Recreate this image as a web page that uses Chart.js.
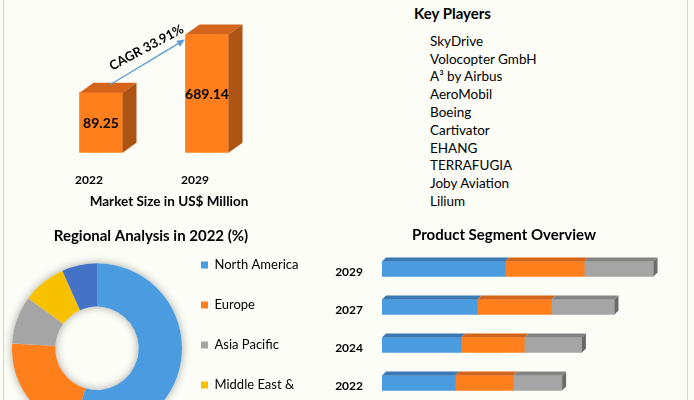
<!DOCTYPE html>
<html>
<head>
<meta charset="utf-8">
<script src="https://cdn.jsdelivr.net/npm/chart.js@4.4.1/dist/chart.umd.min.js"></script>
<style>
  body { margin: 0; background: #fdfdf8; font-family: Lato, sans-serif; }
  #page { position: relative; width: 694px; height: 400px; overflow: hidden; }
  canvas { position: absolute; }
  .edge { position: absolute; top: 0; width: 1px; height: 400px; background: #c9d6ec; }
  #players { position: absolute; left: 414px; top: 4px; color: #000; }
  #players h3 { margin: 0; font-size: 15px; line-height: 18px; font-weight: bold; }
  #players ul { list-style: none; margin: 10.8px 0 0 16px; padding: 0; font-size: 13.5px; line-height: 17.8px; }
</style>
</head>
<body>
<div id="page">
  <div class="edge" style="left:3px"></div>
  <div class="edge" style="left:687px"></div>
  <canvas id="sizeChart" width="338" height="220" style="left:0;top:0"></canvas>
  <div id="players"><h3>Key Players</h3><ul id="playerList"></ul></div>
  <canvas id="regionChart" width="302" height="221" style="left:0;top:224px"></canvas>
  <canvas id="segmentChart" width="364" height="190" style="left:330px;top:220px"></canvas>
</div>
<script>
// market size
const sizeYears = ['2022', '2029'];
const sizeValues = [89.25, 689.14];
const cagrLabel = 'CAGR 33.91%';

const keyPlayers = ['SkyDrive', 'Volocopter GmbH', 'A³ by Airbus', 'AeroMobil', 'Boeing',
  'Cartivator', 'EHANG', 'TERRAFUGIA', 'Joby Aviation', 'Lilium'];

// regional split 2022 (%)
const regions = [['North America'], ['Europe'], ['Asia Pacific'], ['Middle East &', 'Africa'], ['South America']];
const regionShares = [54.5, 21.4, 9.1, 8.3, 6.7];

// product segments, top row first
const segmentYears = ['2029', '2027', '2024', '2022'];
const segmentA = [42.3, 32.8, 27.2, 25.1];
const segmentB = [27.2, 25.4, 21.7, 20.0];
const segmentC = [23.8, 21.7, 19.8, 16.8];

// colours
const orange = '#fe7f1c', orangeTop = '#d4641a', orangeSide = '#ad5313';
const blue = '#4a9be0', blueTop = '#3a79b3';
const grey = '#a5a5a5', greyTop = '#838383', greySide = '#6b6b6b';
const regionColors = [blue, orange, grey, '#f7c100', '#4472c4'];

Chart.defaults.font.family = 'Lato';
Chart.defaults.color = '#000';
Chart.defaults.animation = false;

document.getElementById('playerList').innerHTML = keyPlayers.map(p => '<li>' + p + '</li>').join('');

function poly(ctx, color, pts) {
    ctx.fillStyle = color;
    ctx.beginPath();
    ctx.moveTo(pts[0][0], pts[0][1]);
    for (let i = 1; i < pts.length; i++) ctx.lineTo(pts[i][0], pts[i][1]);
    ctx.closePath();
    ctx.fill();
}

// 3d faces, value labels and the CAGR arrow on the market size bars
const sizeBars3d = {
    id: 'sizeBars3d',
    afterDatasetsDraw(chart) {
        const ctx = chart.ctx;
        const bars = chart.getDatasetMeta(0).data;
        ctx.save();
        bars.forEach((bar, i) => {
            const {x, y, base, width} = bar.getProps(['x', 'y', 'base', 'width'], true);
            const l = x - width / 2, r = x + width / 2;
            poly(ctx, orangeTop, [[l, y], [l + 14, y - 10], [r + 14, y - 10], [r, y]]);
            poly(ctx, orangeSide, [[r, y], [r + 14, y - 10], [r + 14, base - 10], [r, base]]);
            ctx.fillStyle = '#000';
            ctx.font = 'bold 14px Lato';
            ctx.textAlign = 'center';
            ctx.textBaseline = 'middle';
            ctx.fillText(chart.data.datasets[0].data[i].toFixed(2), x, (y + base) / 2 + 1);
        });

        const a = bars[0], b = bars[1];
        const sx = a.x + 9, sy = a.y - 8, ex = b.x - 22, ey = b.y + 5;
        const ang = Math.atan2(ey - sy, ex - sx);
        ctx.strokeStyle = '#5b9bd5';
        ctx.fillStyle = '#5b9bd5';
        ctx.lineWidth = 1.3;
        ctx.beginPath();
        ctx.moveTo(sx, sy);
        ctx.lineTo(ex - 6 * Math.cos(ang), ey - 6 * Math.sin(ang));
        ctx.stroke();
        ctx.save();
        ctx.translate(ex, ey);
        ctx.rotate(ang);
        ctx.beginPath();
        ctx.moveTo(0, 0);
        ctx.lineTo(-8, -3.5);
        ctx.lineTo(-8, 3.5);
        ctx.closePath();
        ctx.fill();
        ctx.restore();

        ctx.save();
        ctx.translate((sx + ex) / 2 - 1, (sy + ey) / 2 - 14.5);
        ctx.rotate(-28 * Math.PI / 180);
        ctx.font = 'bold 13px Lato';
        ctx.fillStyle = '#000';
        ctx.textAlign = 'center';
        ctx.textBaseline = 'middle';
        ctx.fillText(cagrLabel, 0, 0);
        ctx.restore();
        ctx.restore();
    }
};

new Chart(document.getElementById('sizeChart'), {
    type: 'bar',
    data: {
        labels: sizeYears,
        datasets: [{data: sizeValues, backgroundColor: orange, borderWidth: 0, barThickness: 43}]
    },
    options: {
        responsive: false,
        devicePixelRatio: 1,
        layout: {padding: {left: 48, right: 48, top: 24, bottom: 3}},
        scales: {
            x: {
                grid: {display: false, drawTicks: false},
                border: {display: false},
                ticks: {padding: 20, labelOffset: -12, font: {size: 12, weight: 'bold'}},
                afterFit(scale) { scale.height = 34; }
            },
            y: {
                type: 'logarithmic',
                position: 'right',
                min: 10.77,
                max: 1000,
                grid: {display: false, drawTicks: false},
                border: {display: false},
                ticks: {display: false},
                afterFit(scale) { scale.width = 30; }
            }
        },
        plugins: {
            legend: {display: false},
            tooltip: {enabled: false},
            title: {
                display: true,
                position: 'bottom',
                text: 'Market Size in US$ Million',
                font: {size: 13.5, weight: 'bold'},
                padding: {top: 7, bottom: 7}
            }
        }
    },
    plugins: [sizeBars3d]
});

// soft shadow under the ring
const ringShadow = {
    id: 'ringShadow',
    beforeDatasetsDraw(chart) {
        const arc = chart.getDatasetMeta(0).data[0];
        const {x, y, innerRadius, outerRadius} = arc.getProps(['x', 'y', 'innerRadius', 'outerRadius'], true);
        const ctx = chart.ctx;
        ctx.save();
        ctx.shadowColor = 'rgba(0,0,0,0.35)';
        ctx.shadowBlur = 8;
        ctx.fillStyle = '#fff';
        ctx.beginPath();
        ctx.arc(x, y, outerRadius, 0, Math.PI * 2);
        ctx.arc(x, y, innerRadius, 0, Math.PI * 2, true);
        ctx.fill();
        ctx.restore();
    }
};

new Chart(document.getElementById('regionChart'), {
    type: 'doughnut',
    data: {
        labels: regions,
        datasets: [{data: regionShares, backgroundColor: regionColors, borderWidth: 0}]
    },
    options: {
        responsive: false,
        devicePixelRatio: 1,
        cutout: '49%',
        radius: 85,
        layout: {padding: 0},
        plugins: {
            tooltip: {enabled: false},
            title: {
                display: true,
                text: 'Regional Analysis in 2022 (%)',
                font: {size: 15, weight: 'bold'},
                padding: {top: 3, bottom: 6.5}
            },
            legend: {
                position: 'right',
                align: 'start',
                fullSize: false,
                maxWidth: 108,
                labels: {boxWidth: 7, boxHeight: 7, padding: 7, font: {size: 13, lineHeight: '33px'}}
            }
        }
    },
    plugins: [ringShadow]
});

// 3d top faces and end cap on the stacked segment bars
const segment3d = {
    id: 'segment3d',
    afterDatasetsDraw(chart) {
        const ctx = chart.ctx;
        const tops = [blueTop, orangeTop, greyTop];
        const last = chart.data.datasets.length - 1;
        ctx.save();
        chart.data.datasets.forEach((ds, d) => {
            chart.getDatasetMeta(d).data.forEach(bar => {
                const {x, y, base, height} = bar.getProps(['x', 'y', 'base', 'height'], true);
                const t = y - height / 2, btm = y + height / 2;
                poly(ctx, tops[d], [[base, t], [base + 4, t - 4], [x + 4, t - 4], [x, t]]);
                if (d === last) {
                    poly(ctx, greySide, [[x, t], [x + 4, t - 4], [x + 4, btm - 4], [x, btm]]);
                }
            });
        });
        ctx.restore();
    }
};

new Chart(document.getElementById('segmentChart'), {
    type: 'bar',
    data: {
        labels: segmentYears,
        datasets: [
            {label: 'Segment A', data: segmentA, backgroundColor: blue},
            {label: 'Segment B', data: segmentB, backgroundColor: orange},
            {label: 'Segment C', data: segmentC, backgroundColor: grey}
        ]
    },
    options: {
        indexAxis: 'y',
        responsive: false,
        devicePixelRatio: 1,
        datasets: {bar: {barThickness: 15, borderWidth: 0}},
        layout: {padding: {left: 5, right: 21, top: 0, bottom: 8}},
        scales: {
            x: {display: false, stacked: true, min: 0, max: 100},
            y: {
                stacked: true,
                grid: {display: false, drawTicks: false},
                border: {display: false},
                ticks: {padding: 19, labelOffset: 3.5, font: {size: 12, weight: 'bold'}},
                afterFit(scale) {
                    scale.width = 47;
                    scale.paddingTop = 0;
                    scale.paddingBottom = 0;
                }
            }
        },
        plugins: {
            legend: {display: false},
            tooltip: {enabled: false},
            title: {
                display: true,
                text: 'Product Segment Overview',
                font: {size: 15, weight: 'bold'},
                padding: {top: 6, bottom: 6}
            }
        }
    },
    plugins: [segment3d]
});
</script>
</body>
</html>
